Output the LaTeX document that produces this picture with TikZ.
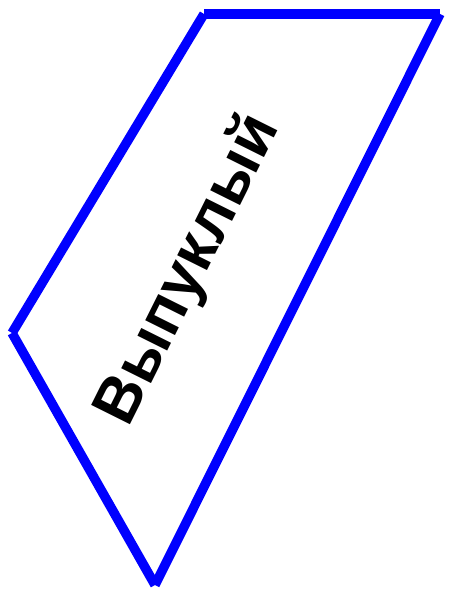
\documentclass[tikz,border=0pt]{standalone}
\usepackage{fontspec}
\setmainfont{Liberation Sans}
\usetikzlibrary{positioning}
\tikzstyle{edge} = [
    draw=blue,
    line width=9.5pt,
    line cap=butt
]
\tikzstyle{label} = [
    font=\bfseries\fontsize{63}{63}\selectfont,
    text=black,
    rotate=63.5,
    inner sep=0pt
]

\begin{document}
\begin{tikzpicture}[x=1pt, y=-1pt]
\useasboundingbox (0,0) rectangle (448,593);

\coordinate (topleft) at (204,14);
\coordinate (topright) at (440,14);
\coordinate (bottom) at (155,585);
\coordinate (left) at (12,333);

\draw [edge] (topleft) -- (topright);
\draw [edge] (topright) -- (bottom);
\draw [edge] (bottom) -- (left);
\draw [edge] (left) -- (topleft);

\node (name) [label] at (189,270) {Выпуклый};

\end{tikzpicture}
\end{document}
